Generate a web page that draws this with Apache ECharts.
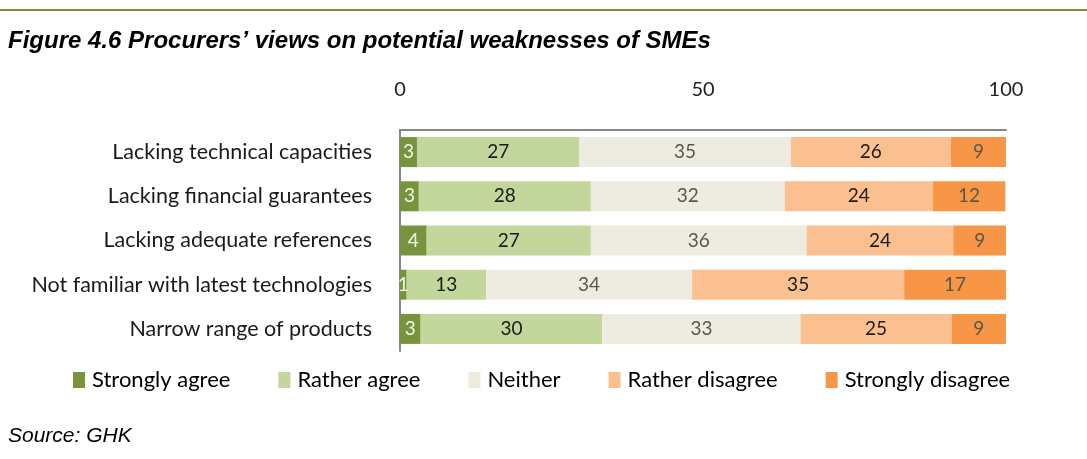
<!DOCTYPE html>
<html>
<head>
    <meta charset="utf-8">
    <title>Figure 4.6</title>
    <style>
        html, body { margin: 0; padding: 0; background: #fff; }
    </style>
</head>
<body>
    <div id="main" style="width: 1087px; height: 459px;"></div>
    <script src="https://cdn.jsdelivr.net/npm/echarts@6/dist/echarts.min.js"></script>
    <script type="text/javascript">
        // categories, top to bottom
        var categories = [
            'Lacking technical capacities',
            'Lacking financial guarantees',
            'Lacking adequate references',
            'Not familiar with latest technologies',
            'Narrow range of products'
        ];
        var seriesNames = ['Strongly agree', 'Rather agree', 'Neither', 'Rather disagree', 'Strongly disagree'];
        var seriesColors = ['#77933c', '#c3d69b', '#eeece1', '#fac090', '#f79646'];
        var labelColors = ['#f2f6e8', '#1a1a1a', '#59584a', '#1a1a1a', '#59584a'];

        // percentages (labels show rounded values)
        var stronglyAgree = [2.8, 3.1, 4.4, 1.1, 3.4];
        var ratherAgree = [26.8, 28.4, 27.1, 13.1, 30.0];
        var neither = [34.9, 32.0, 35.6, 34.0, 32.7];
        var ratherDisagree = [26.4, 24.4, 24.2, 35.0, 24.9];
        var stronglyDisagree = [9.1, 12.0, 8.7, 16.8, 9.0];
        var seriesData = [stronglyAgree, ratherAgree, neither, ratherDisagree, stronglyDisagree];

        var chartDom = document.getElementById('main');
        var myChart = echarts.init(chartDom);
        var option;

        var FONT = 'Lato';

        option = {
            animation: false,
            title: [{
                text: 'Figure 4.6 Procurers\u2019 views on potential weaknesses of SMEs',
                left: 8,
                top: 29,
                padding: 0,
                textStyle: {
                    fontFamily: 'Liberation Sans',
                    fontStyle: 'italic',
                    fontWeight: 'bold',
                    fontSize: 24,
                    color: '#000'
                }
            }, {
                text: 'Source: GHK',
                left: 8,
                top: 426,
                padding: 0,
                textStyle: {
                    fontFamily: 'Liberation Sans',
                    fontStyle: 'italic',
                    fontWeight: 'normal',
                    fontSize: 21,
                    color: '#000'
                }
            }],
            graphic: [{
                type: 'rect',
                shape: { x: 0, y: 9, width: 1087, height: 2 },
                style: { fill: '#76923c' }
            }],
            legend: {
                left: 73,
                top: 369,
                padding: 0,
                itemWidth: 12,
                itemHeight: 16,
                itemGap: 48,
                icon: 'rect',
                textStyle: { fontFamily: FONT, fontSize: 22, color: '#000', padding: [0, 0, 0, 2] },
                data: seriesNames
            },
            grid: {
                left: 400,
                right: 81,
                top: 130,
                height: 221,
                containLabel: false
            },
            xAxis: {
                type: 'value',
                position: 'top',
                min: 0,
                max: 100,
                interval: 50,
                axisLine: { show: true, lineStyle: { color: '#868686', width: 2 } },
                axisTick: { show: false },
                splitLine: { show: false },
                axisLabel: {
                    margin: 30,
                    fontFamily: FONT,
                    fontSize: 20,
                    color: '#222'
                }
            },
            yAxis: {
                type: 'category',
                inverse: true,
                data: categories,
                axisLine: { show: true, lineStyle: { color: '#868686', width: 2 } },
                axisTick: { show: false },
                axisLabel: {
                    margin: 28,
                    fontFamily: FONT,
                    fontSize: 21.5,
                    color: '#1a1a1a'
                }
            },
            series: seriesNames.map(function (name, i) {
                return {
                    name: name,
                    type: 'bar',
                    stack: 'total',
                    barWidth: 30,
                    data: seriesData[i],
                    itemStyle: { color: seriesColors[i] },
                    label: {
                        show: true,
                        position: 'inside',
                        fontFamily: FONT,
                        fontSize: 19,
                        color: labelColors[i],
                        formatter: function (p) { return Math.round(p.value); }
                    }
                };
            })
        };

        option && myChart.setOption(option);
    </script>
</body>
</html>
